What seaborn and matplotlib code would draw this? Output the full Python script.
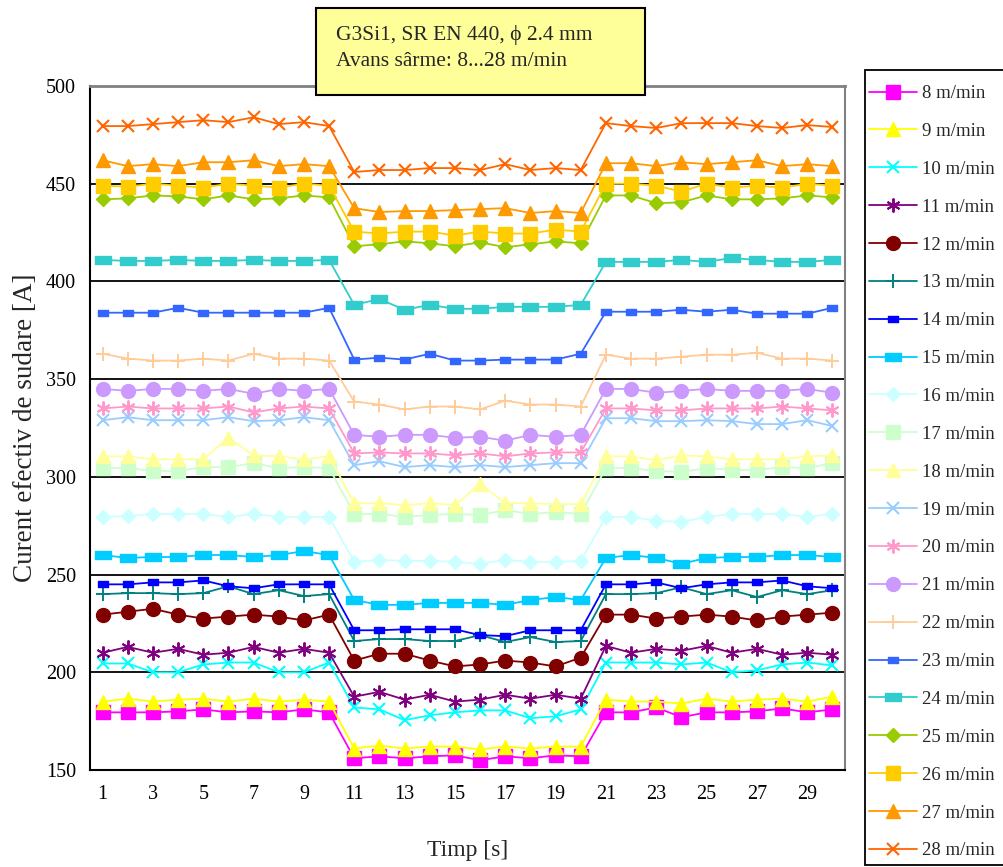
import numpy as np
import pandas as pd
import matplotlib
matplotlib.use("Agg")
import matplotlib.pyplot as plt
from matplotlib.patches import Rectangle
from matplotlib.path import Path
import seaborn as sns

# Time axis [s]
time_s = list(range(1, 31))

# Wire feed speeds [m/min]
speeds = [8, 9, 10, 11, 12, 13, 14, 15, 16, 17, 18, 19, 20, 21, 22, 23, 24, 25, 26, 27, 28]

# Effective welding current [A] per wire feed speed
i08 = [179.5, 179.5, 179.5, 180, 181, 179.5, 180, 179.5, 181, 179.5,
       156, 157, 156, 157, 157.5, 155, 157, 156, 157.5, 157,
       179.5, 179.5, 182, 177, 179.5, 179.5, 180, 181.5, 179.5, 181]
i09 = [185, 186.5, 185, 186, 186.5, 185, 186.5, 185, 186, 185,
       161, 162.5, 161, 162, 162, 160.5, 162, 161, 162, 162,
       186, 185, 185, 184, 186.5, 185, 186, 186.5, 185, 187.5]
i10 = [204.5, 204.5, 200, 200, 204, 205, 205, 200, 200, 205,
       182, 181, 175.5, 178, 179.5, 180.5, 180.5, 176.5, 177.5, 181,
       205, 205, 205, 204, 205, 200, 201, 204, 205, 203.5]
i11 = [210, 213, 210, 212, 209, 210, 213, 210, 212, 210,
       187.5, 190, 186, 188.5, 185, 186, 188.5, 186.5, 188.5, 186.5,
       213.5, 210, 212, 211, 213.5, 210, 212, 209, 210, 209]
i12 = [229.5, 231, 232.5, 229.5, 227.5, 228.5, 229.5, 228.5, 226.5, 229.5,
       206, 209.5, 209.5, 206, 203, 204, 206, 205, 203, 207.5,
       229.5, 229.5, 227.5, 228.5, 229.5, 228.5, 226.5, 228.5, 229.5, 230.5]
i13 = [240, 240.5, 240.5, 240, 240.5, 244, 240, 242, 239, 240,
       216, 217, 217, 216, 216, 219, 215.5, 218, 215.5, 216,
       240, 240, 240.5, 243.5, 240, 242, 238.5, 242, 240, 242]
i14 = [245, 245, 246, 246, 247, 244, 243, 245, 245, 245,
       221.5, 221.5, 222, 222, 222, 219, 218.5, 221.5, 221.5, 221.5,
       245, 245, 246, 243, 245, 246, 246, 247, 244, 243]
i15 = [260, 258.5, 259, 259, 260, 260, 259, 260, 262, 260,
       237, 234.5, 234.5, 235.5, 235.5, 235.5, 234.5, 237, 238.5, 237,
       258.5, 260, 258.5, 255.5, 258.5, 259, 259, 260, 260, 259]
i16 = [279.5, 280, 281, 281, 281, 279.5, 281, 279.5, 279.5, 279.5,
       256.5, 257.5, 257, 257, 256.5, 255.5, 257.5, 256.5, 256.5, 257,
       279.5, 279.5, 277.5, 277, 279.5, 281, 281, 281, 279.5, 281]
i17 = [304.5, 304.5, 303, 303, 305, 305, 307, 304.5, 305, 304.5,
       281, 281, 279.5, 280.5, 281, 280.5, 283, 281, 282, 281,
       304.5, 304.5, 303, 302.5, 304.5, 303.5, 303.5, 305, 304.5, 307]
i18 = [310.5, 310.5, 309, 309, 309, 320, 311, 310.5, 309, 310.5,
       286.5, 286.5, 285.5, 286.5, 285.5, 296.5, 286.5, 286.5, 286, 286,
       310.5, 310.5, 308.5, 311, 310.5, 309, 309, 309, 310.5, 311]
i19 = [329, 330.5, 329, 329, 329, 330.5, 328.5, 329, 330.5, 329,
       306, 308, 305, 306, 305, 306, 305, 306, 307, 307,
       330, 330, 328.5, 328.5, 329, 328.5, 327, 327, 329, 326]
i20 = [335, 336, 335, 335, 335, 336, 333, 335, 336, 335,
       312, 312.5, 312, 312, 311, 312, 310.5, 312, 312.5, 312.5,
       335, 335, 334, 334, 335, 335, 335, 336, 335, 334]
i21 = [345, 344, 345, 345, 344, 345, 342.5, 345, 344, 345,
       321.5, 320.5, 321.5, 321.5, 320, 320.5, 318.5, 321.5, 320.5, 321.5,
       345, 345, 343, 344, 345, 344, 344, 344, 345, 343]
i22 = [363, 360.5, 359.5, 359.5, 360.5, 359.5, 363, 360.5, 360.5, 359.5,
       338.5, 337, 334.5, 336, 336, 334.5, 339, 337, 337, 336,
       362.5, 360.5, 360.5, 361.5, 362.5, 362.5, 363.5, 360.5, 360.5, 359.5]
i23 = [384, 384, 384, 386.5, 384, 384, 384, 384, 384, 386.5,
       360, 361, 360, 363, 359.5, 359.5, 360, 360, 360, 363,
       384.5, 384.5, 384.5, 385.5, 384.5, 385.5, 383.5, 383.5, 383.5, 386.5]
i24 = [411, 410.5, 410.5, 411, 410.5, 410.5, 411, 410.5, 410.5, 411,
       388, 391, 385.5, 388, 386, 386, 387, 387, 387, 388,
       410, 410, 410, 411, 410, 412, 411, 410, 410, 411]
i25 = [442, 442.5, 444, 443.5, 442, 444, 442, 442.5, 444, 443,
       418, 419, 420.5, 419.5, 418, 420, 417.5, 419, 420.5, 419.5,
       444, 444, 440, 440.5, 444, 442, 442, 442.5, 444, 443]
i26 = [449, 448.5, 450, 449, 448, 450, 449, 448, 450, 449,
       425.5, 424.5, 425.5, 425.5, 423.5, 425.5, 424.5, 424.5, 426.5, 425.5,
       450, 450, 449, 446, 450, 448, 449, 448, 450, 449]
i27 = [462, 459, 460, 459, 461, 461, 462, 459, 460, 459,
       437.5, 435.5, 436, 436, 436.5, 437, 437.5, 435, 436, 435,
       460.5, 460.5, 459, 461, 460, 461, 462, 459, 460, 459]
i28 = [479.5, 479.5, 480.5, 481.5, 482.5, 481.5, 484, 480.5, 481.5, 479.5,
       456, 457, 457, 458, 458, 457, 460, 457, 458, 457,
       481, 479.5, 478.5, 481, 481, 481, 479.5, 478.5, 480, 479]

currents = [i08, i09, i10, i11, i12, i13, i14, i15, i16, i17, i18,
            i19, i20, i21, i22, i23, i24, i25, i26, i27, i28]

series_colors = ["#FF00FF", "#FFFF00", "#00FFFF", "#800080", "#800000", "#008080",
                 "#0000FF", "#00CCFF", "#CCFFFF", "#CCFFCC", "#FFFF99", "#99CCFF",
                 "#FF99CC", "#CC99FF", "#FFCC99", "#3366FF", "#33CCCC", "#99CC00",
                 "#FFCC00", "#FF9900", "#FF6600"]

y_ticks = [150, 200, 250, 300, 350, 400, 450, 500]
x_labels = [1, 3, 5, 7, 9, 11, 13, 15, 17, 19, 21, 23, 25, 27, 29]

# Marker shapes
small_dash = Path([(-1, -0.65), (1, -0.65), (1, 0.65), (-1, 0.65), (-1, -0.65)],
                  [Path.MOVETO, Path.LINETO, Path.LINETO, Path.LINETO, Path.CLOSEPOLY])
wide_dash = Path([(-1, -0.5), (1, -0.5), (1, 0.5), (-1, 0.5), (-1, -0.5)],
                 [Path.MOVETO, Path.LINETO, Path.LINETO, Path.LINETO, Path.CLOSEPOLY])
asterisk = (6, 2, 0)

marker_cycle = [("s", 9.5, 1.0), ("^", 10.0, 1.0), ("x", 8.5, 1.5), (asterisk, 10.0, 1.4),
                ("o", 10.0, 1.0), ("+", 9.5, 1.4), (small_dash, 7.0, 1.0),
                (wide_dash, 11.0, 1.0), ("D", 7.0, 1.0)]
series_markers = (marker_cycle + marker_cycle + marker_cycle)[:len(speeds)]

sns.set_style("white")
plt.rcParams["font.family"] = ["Liberation Serif", "DejaVu Serif"]

fig = plt.figure(figsize=(10.04, 8.67), dpi=100)
ax = fig.add_axes([90 / 1004, 1 - 770 / 867, (845 - 90) / 1004, (770 - 86) / 867])

for spd, vals, col, (mk, ms, mew) in zip(speeds, currents, series_colors, series_markers):
    df = pd.DataFrame({"t": time_s, "I": vals})
    sns.lineplot(data=df, x="t", y="I", ax=ax, color=col, linewidth=1.3,
                 marker=mk, markersize=ms, markeredgecolor=col, markerfacecolor=col,
                 markeredgewidth=mew, label=f"{spd} m/min", legend=False,
                 errorbar=None, zorder=3)

ax.set_xlim(0.5, 30.5)
ax.set_ylim(150, 500)
ax.set_yticks(y_ticks)
ax.set_yticklabels([str(v) for v in y_ticks], fontsize=14.5)
ax.set_xticks(x_labels)
ax.set_xticklabels([str(v) for v in x_labels], fontsize=14.5)
ax.set_xticks(np.arange(0.5, 31, 1.0), minor=True)
ax.tick_params(axis="x", which="major", length=0, pad=11, colors="black")
ax.tick_params(axis="x", which="minor", length=6, width=1.2, direction="out", color="black")
ax.tick_params(axis="y", which="major", length=6, width=1.2, direction="out", pad=4, colors="black")

ax.grid(False)
for v in y_ticks[1:-1]:
    ax.axhline(v, color="black", linewidth=1.3, zorder=1)

ax.spines["left"].set_color("black")
ax.spines["bottom"].set_color("black")
ax.spines["left"].set_linewidth(1.5)
ax.spines["bottom"].set_linewidth(1.5)
ax.spines["top"].set_color("#808080")
ax.spines["right"].set_color("#808080")
ax.spines["top"].set_linewidth(2.0)
ax.spines["right"].set_linewidth(1.5)

ax.set_xlabel("Timp [s]", fontsize=17, labelpad=26)
ax.set_ylabel("Curent efectiv de sudare [A]", fontsize=19.5, labelpad=6)

# Legend box on the right
legend_box = Rectangle((865 / 1004, 1 - 865 / 867), 150 / 1004, (865 - 70) / 867,
                       transform=fig.transFigure, facecolor="white", edgecolor="black",
                       linewidth=1.3, zorder=4)
fig.add_artist(legend_box)

handles, labels = ax.get_legend_handles_labels()
leg = fig.legend(handles, labels, loc="upper left",
                 bbox_to_anchor=(869 / 1004, 1 - 85 / 867),
                 frameon=False, fontsize=13.5, handlelength=2.56, handletextpad=0.27,
                 labelspacing=1.106, borderpad=0, borderaxespad=0)
leg.set_zorder(6)

# Title box
box = Rectangle((316 / 1004, 1 - 95 / 867), (645 - 316) / 1004, (95 - 8) / 867,
                transform=fig.transFigure, facecolor="#FFFF99", edgecolor="black",
                linewidth=1.5, zorder=5)
fig.add_artist(box)
fig.text(336 / 1004, 1 - 35 / 867, "G3Si1, SR EN 440, ϕ 2.4 mm", fontsize=15.5,
         va="center", ha="left", zorder=6)
fig.text(336 / 1004, 1 - 61 / 867, "Avans sârme: 8...28 m/min", fontsize=15.5,
         va="center", ha="left", zorder=6)

fig.savefig("out.png", dpi=100)
